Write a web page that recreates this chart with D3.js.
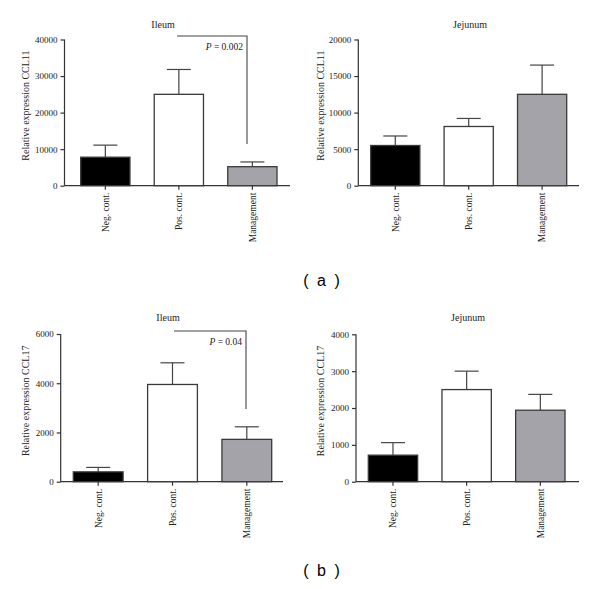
<!DOCTYPE html>
<html>
<head>
<meta charset="utf-8">
<script src="https://cdn.jsdelivr.net/npm/d3@7"></script>
<style>
  body { margin: 0; background: #fff; }
  svg { display: block; }
</style>
</head>
<body>
<svg id="chart" width="600" height="589"></svg>
<script>
// groups shared by all four panels
const groups = ['Neg. cont.', 'Pos. cont.', 'Management'];

// mean values and upper error (mean + SEM)
const ileumCCL11 = [7800, 25000, 5200];
const ileumCCL11Err = [11100, 31800, 6500];
const jejunumCCL11 = [5500, 8100, 12500];
const jejunumCCL11Err = [6800, 9200, 16500];
const ileumCCL17 = [400, 3950, 1720];
const ileumCCL17Err = [580, 4830, 2230];
const jejunumCCL17 = [720, 2500, 1940];
const jejunumCCL17Err = [1060, 3000, 2370];

// axis ticks
const ticksCCL11Ileum = [0, 10000, 20000, 30000, 40000];
const ticksCCL11Jejunum = [0, 5000, 10000, 15000, 20000];
const ticksCCL17Ileum = [0, 2000, 4000, 6000];
const ticksCCL17Jejunum = [0, 1000, 2000, 3000, 4000];

const fills = ['#000000', '#ffffff', '#a3a3a9'];
const serif = '"Liberation Serif", "DejaVu Serif", serif';

// panel layout (pixels)
const panels = [
  { title: 'Ileum', ylab: 'Relative expression CCL11', values: ileumCCL11, errs: ileumCCL11Err,
    ticks: ticksCCL11Ileum, axisX: 64.5, axisEnd: 290, top: 39.5, bottom: 185.7,
    bars: [80.7, 277], titleX: 163, titleY: 28, ylabX: 25, pval: 'P = 0.002',
    bracket: { y: 36, x1: 177, x2: 247, yEnd: 144 } },
  { title: 'Jejunum', ylab: 'Relative expression CCL11', values: jejunumCCL11, errs: jejunumCCL11Err,
    ticks: ticksCCL11Jejunum, axisX: 358.3, axisEnd: 579, top: 39.5, bottom: 185.7,
    bars: [370.7, 566.7], titleX: 470, titleY: 28, ylabX: 320 },
  { title: 'Ileum', ylab: 'Relative expression CCL17', values: ileumCCL17, errs: ileumCCL17Err,
    ticks: ticksCCL17Ileum, axisX: 60.7, axisEnd: 283, top: 334, bottom: 481.7,
    bars: [73.3, 271.7], titleX: 168, titleY: 321, ylabX: 25, pval: 'P = 0.04',
    bracket: { y: 331, x1: 174, x2: 246, yEnd: 409 } },
  { title: 'Jejunum', ylab: 'Relative expression CCL17', values: jejunumCCL17, errs: jejunumCCL17Err,
    ticks: ticksCCL17Jejunum, axisX: 356, axisEnd: 579, top: 334.3, bottom: 481.7,
    bars: [368.3, 565], titleX: 468, titleY: 321, ylabX: 320 },
];

const svg = d3.select('#chart');

panels.forEach((p) => {
  const g = svg.append('g');

  const y = d3.scaleLinear()
    .domain([0, d3.max(p.ticks)])
    .range([p.bottom, p.top]);

  const x = d3.scaleBand()
    .domain(groups)
    .range(p.bars)
    .paddingInner(0.33)
    .paddingOuter(0);

  // y axis
  const yAxis = g.append('g')
    .attr('transform', `translate(${p.axisX},0)`)
    .call(d3.axisLeft(y).tickValues(p.ticks).tickSize(4).tickPadding(3).tickFormat(d3.format('d')));
  yAxis.select('.domain').attr('stroke', '#333').attr('stroke-width', 1.2)
    .attr('d', `M0,${p.top}V${p.bottom}`);
  yAxis.selectAll('.tick line').attr('stroke', '#333').attr('stroke-width', 1.2);
  yAxis.selectAll('.tick text')
    .style('font-family', serif).style('font-size', '9px').attr('fill', '#222');

  // x axis
  const xAxis = g.append('g')
    .attr('transform', `translate(0,${p.bottom})`)
    .call(d3.axisBottom(x).tickSize(4).tickPadding(4));
  xAxis.select('.domain').attr('stroke', '#333').attr('stroke-width', 1.2)
    .attr('d', `M${p.axisX},0H${p.axisEnd}`);
  xAxis.selectAll('.tick line').attr('stroke', '#333').attr('stroke-width', 1.2);
  xAxis.selectAll('.tick text')
    .attr('transform', 'rotate(-90)')
    .attr('x', -7).attr('y', 0).attr('dy', '0.35em')
    .attr('text-anchor', 'end')
    .style('font-family', serif).style('font-size', '9.5px').attr('fill', '#222');

  // error bars (upper only)
  const errG = g.append('g');
  groups.forEach((grp, i) => {
    const cx = x(grp) + x.bandwidth() / 2;
    errG.append('line')
      .attr('x1', cx).attr('x2', cx)
      .attr('y1', y(p.values[i])).attr('y2', y(p.errs[i]))
      .attr('stroke', '#444').attr('stroke-width', 1.2);
    errG.append('line')
      .attr('x1', cx - 12).attr('x2', cx + 12)
      .attr('y1', y(p.errs[i])).attr('y2', y(p.errs[i]))
      .attr('stroke', '#444').attr('stroke-width', 1.2);
  });

  // bars
  g.selectAll('rect.bar')
    .data(p.values)
    .enter().append('rect')
    .attr('class', 'bar')
    .attr('x', (d, i) => x(groups[i]))
    .attr('width', x.bandwidth())
    .attr('y', (d) => y(d))
    .attr('height', (d) => p.bottom - y(d))
    .attr('fill', (d, i) => fills[i])
    .attr('stroke', '#3a3a3a')
    .attr('stroke-width', 1.3);

  // title
  g.append('text')
    .attr('x', p.titleX).attr('y', p.titleY)
    .attr('text-anchor', 'middle')
    .style('font-family', serif).style('font-size', '10px').attr('fill', '#222')
    .text(p.title);

  // y label
  g.append('text')
    .attr('transform', `translate(${p.ylabX},${(p.top + p.bottom) / 2 - 7}) rotate(-90)`)
    .attr('text-anchor', 'middle')
    .attr('dy', '0.35em')
    .style('font-family', serif).style('font-size', '10px').attr('fill', '#222')
    .text(p.ylab);

  // significance bracket
  if (p.bracket) {
    const b = p.bracket;
    g.append('path')
      .attr('d', `M${b.x1},${b.y}H${b.x2}V${b.yEnd}`)
      .attr('fill', 'none').attr('stroke', '#444').attr('stroke-width', 1.1);
    const t = g.append('text')
      .attr('x', b.x2 - 4).attr('y', b.y + 14)
      .attr('text-anchor', 'end')
      .style('font-family', serif).style('font-size', '9.5px').attr('fill', '#222');
    t.append('tspan').style('font-style', 'italic').text('P');
    t.append('tspan').text(p.pval.slice(1));
  }
});

// panel letters
[['( a )', 286], ['( b )', 576]].forEach(([label, yPos]) => {
  svg.append('text')
    .attr('x', 322.5).attr('y', yPos).attr('text-anchor', 'middle')
    .style('font-family', '"Liberation Sans", Arial, sans-serif').style('font-size', '16px')
    .style('letter-spacing', '2px')
    .text(label);
});
</script>
</body>
</html>
